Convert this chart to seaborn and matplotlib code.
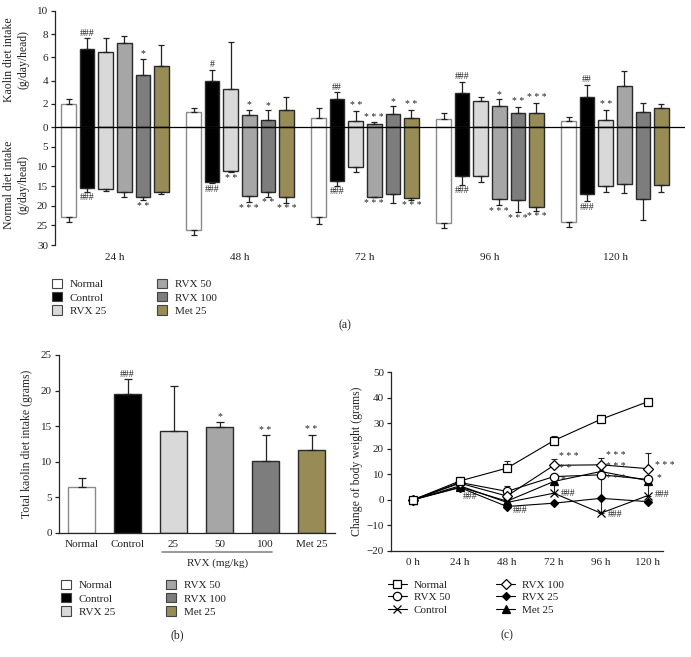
import numpy as np
import pandas as pd
import matplotlib
matplotlib.use("Agg")
import matplotlib.pyplot as plt
import seaborn as sns
from matplotlib.patches import Patch
from matplotlib.container import BarContainer

# ---------------- data ----------------
groups = ["Normal", "Control", "RVX 25", "RVX 50", "RVX 100", "Met 25"]
group_colors = ["#ffffff", "#000000", "#d9d9d9", "#a6a6a6", "#7d7d7d", "#978c56"]
time_labels_a = ["24 h", "48 h", "72 h", "96 h", "120 h"]

kaolin = {
    "Normal":  [2.0, 1.3, 0.8, 0.7, 0.55],
    "Control": [6.7, 4.0, 2.45, 2.9, 2.55],
    "RVX 25":  [6.5, 3.3, 0.55, 2.25, 0.6],
    "RVX 50":  [7.2, 1.0, 0.25, 1.8, 3.5],
    "RVX 100": [4.5, 0.6, 1.1, 1.25, 1.3],
    "Met 25":  [5.3, 1.5, 0.75, 1.2, 1.65],
}
kaolin_err = {
    "Normal":  [0.45, 0.35, 0.8, 0.55, 0.3],
    "Control": [0.95, 0.95, 0.55, 1.0, 1.1],
    "RVX 25":  [1.2, 4.0, 0.85, 0.3, 0.9],
    "RVX 50":  [0.65, 0.5, 0.17, 0.6, 1.35],
    "RVX 100": [1.4, 0.85, 0.7, 0.5, 0.75],
    "Met 25":  [1.8, 1.05, 0.75, 0.9, 0.35],
}
normal_diet = {
    "Normal":  [23.0, 26.2, 23.0, 24.5, 24.2],
    "Control": [15.6, 14.1, 13.6, 12.4, 17.1],
    "RVX 25":  [15.8, 11.2, 10.1, 12.4, 15.1],
    "RVX 50":  [16.4, 17.5, 17.7, 18.4, 14.5],
    "RVX 100": [17.9, 16.4, 17.1, 18.6, 18.3],
    "Met 25":  [16.6, 17.7, 18.05, 20.3, 14.8],
}
normal_err = {
    "Normal":  [1.2, 1.3, 1.6, 1.3, 1.3],
    "Control": [0.8, 0.25, 1.4, 2.3, 1.8],
    "RVX 25":  [0.4, 0.3, 1.3, 1.5, 1.5],
    "RVX 50":  [1.4, 1.6, 0.2, 1.5, 2.2],
    "RVX 100": [0.7, 1.3, 2.1, 3.1, 5.3],
    "Met 25":  [0.5, 1.5, 0.5, 1.0, 1.8],
}
kaolin_sig = {
    "Control": ["###", "#", "##", "###", "##"],
    "RVX 25":  ["", "", "**", "", "**"],
    "RVX 50":  ["", "*", "***", "*", ""],
    "RVX 100": ["*", "*", "*", "**", ""],
    "Met 25":  ["", "", "**", "***", ""],
}
normal_sig = {
    "Control": ["###", "###", "###", "###", "###"],
    "RVX 25":  ["", "**", "", "", ""],
    "RVX 50":  ["", "***", "***", "***", ""],
    "RVX 100": ["**", "**", "", "***", ""],
    "Met 25":  ["", "***", "***", "***", ""],
}

# panel (b)
total_kaolin = [6.4, 19.5, 14.3, 14.95, 10.1, 11.6]
total_kaolin_err = [1.3, 2.1, 6.4, 0.7, 3.6, 2.2]
total_sig = ["", "###", "", "*", "**", "**"]
b_ticklabels = ["Normal", "Control", "25", "50", "100", "Met 25"]

# panel (c)
hours = [0, 24, 48, 72, 96, 120]
hour_labels = ["0 h", "24 h", "48 h", "72 h", "96 h", "120 h"]
c_order = ["Normal", "RVX 50", "Control", "RVX 100", "RVX 25", "Met 25"]
weight = {
    "Normal":  [0, 7.4, 12.4, 23.2, 31.5, 38.4],
    "RVX 50":  [0, 6.8, 3.3, 9.1, 9.8, 8.0],
    "Control": [0, 5.5, -1.0, 2.6, -5.2, 1.7],
    "RVX 100": [0, 6.5, 1.5, 13.5, 13.7, 12.2],
    "RVX 25":  [0, 4.8, -2.6, -1.3, 0.6, -0.7],
    "Met 25":  [0, 5.0, -0.5, 7.2, 11.1, 7.5],
}
weight_err = {
    "Normal":  [0, 1.4, 2.9, 1.8, 1.8, 1.2],
    "RVX 50":  [0, 1.0, 2.0, 0, 0, 0],
    "Control": [0, 0, 0, 4.5, 14.0, 5.5],
    "RVX 100": [0, 1.0, 1.5, 2.3, 2.6, 6.1],
    "RVX 25":  [0, 0, 0, 0, 0, 0],
    "Met 25":  [0, 0, 0, 0, 0, 0],
}
# (series, time index, label, dx pt, dy pt)
c_sig = [
    ("Control", 1, "###", 0, -8),
    ("RVX 25", 2, "###", 2, -3),
    ("RVX 100", 3, "***", 2, 6.5),
    ("RVX 50", 3, "**", 2, 5.5),
    ("Met 25", 3, "*", 3, 1),
    ("Control", 3, "###", 3, 0),
    ("RVX 100", 4, "***", 2, 6.5),
    ("Met 25", 4, "***", 2, 3.4),
    ("RVX 50", 4, "***", 2, -2.5),
    ("Control", 4, "###", 3, -1.2),
    ("RVX 100", 5, "***", 3, 2),
    ("Met 25", 5, "*", 4, 2),
    ("Control", 5, "###", 3, 0.7),
]

# ---------------- style ----------------
sns.set_style("ticks")
plt.rcParams["font.family"] = ["Liberation Serif", "DejaVu Serif"]
plt.rcParams["font.size"] = 8
plt.rcParams["axes.linewidth"] = 0.9
plt.rcParams["xtick.major.width"] = 0.9
plt.rcParams["ytick.major.width"] = 0.9
plt.rcParams["ytick.major.size"] = 3
plt.rcParams["text.color"] = "#222222"
plt.rcParams["xtick.color"] = "#222222"
plt.rcParams["ytick.color"] = "#222222"

W, H = 691, 657
fig = plt.figure(figsize=(W / 100, H / 100), dpi=100)
pal = dict(zip(groups, group_colors))
EDGE = "#2a2a2a"
NORMAL_EDGE = "#8a8a8a"
ERRC = "#222222"
SIGSIZE = 7


def fmt_sig(s):
    return " ".join(s) if s.startswith("*") else s


def bar_containers(ax):
    return [c for c in ax.containers if isinstance(c, BarContainer)]


# ---------------- panel (a) ----------------
SCALE = 2.95
axA = fig.add_axes([55 / W, 1 - 245 / H, 630 / W, 234 / H])
rows = []
for g in groups:
    for t, k, n in zip(time_labels_a, kaolin[g], normal_diet[g]):
        rows.append(dict(time=t, group=g, kaolin=k, normal=-n / SCALE))
dfA = pd.DataFrame(rows)

common = dict(data=dfA, x="time", hue="group", hue_order=groups, order=time_labels_a,
              palette=pal, saturation=1, width=0.89, gap=0.22, errorbar=None,
              legend=False, edgecolor=EDGE, linewidth=1.0, ax=axA)
sns.barplot(y="kaolin", **common)
n_up = len(bar_containers(axA))
sns.barplot(y="normal", **common)
contA = bar_containers(axA)

for i, g in enumerate(groups):
    up = [b for b in contA[i] if b is not None]
    dn = [b for b in contA[n_up + i] if b is not None]
    if g == "Normal":
        for b in up + dn:
            b.set_edgecolor(NORMAL_EDGE)
    for j, bar in enumerate(up):
        x = bar.get_x() + bar.get_width() / 2
        top = bar.get_height()
        e = kaolin_err[g][j]
        axA.errorbar(x, top, yerr=[[0], [e]], fmt="none", ecolor=ERRC,
                     elinewidth=0.9, capsize=2.5, capthick=0.9)
        lab = kaolin_sig.get(g, [""] * 5)[j]
        if lab:
            axA.annotate(fmt_sig(lab), (x, top + e), xytext=(0, 0.3),
                         textcoords="offset points", ha="center", va="bottom",
                         fontsize=SIGSIZE)
    for j, bar in enumerate(dn):
        x = bar.get_x() + bar.get_width() / 2
        bot = bar.get_height()
        e = normal_err[g][j] / SCALE
        axA.errorbar(x, bot, yerr=[[e], [0]], fmt="none", ecolor=ERRC,
                     elinewidth=0.9, capsize=2.5, capthick=0.9)
        lab = normal_sig.get(g, [""] * 5)[j]
        if lab:
            axA.annotate(fmt_sig(lab), (x, bot - e), xytext=(0, -1),
                         textcoords="offset points", ha="center", va="top",
                         fontsize=SIGSIZE)

axA.axhline(0, color="black", lw=0.9, zorder=5)
axA.set_ylim(-30 / SCALE, 10)
axA.set_xlim(-0.48, 4.56)
up_ticks = [0, 2, 4, 6, 8, 10]
dn_ticks = [5, 10, 15, 20, 25, 30]
axA.set_yticks(up_ticks + [-v / SCALE for v in dn_ticks])
axA.set_yticklabels([str(v) for v in up_ticks] + [str(v) for v in dn_ticks])
axA.tick_params(axis="x", length=0, pad=6, labelsize=8)
axA.tick_params(axis="y", labelsize=8, pad=2)
for s in ["top", "right", "bottom"]:
    axA.spines[s].set_visible(False)
axA.set_xlabel("")
axA.set_ylabel("")
fig.text(16 / W, 1 - 60 / H, "Kaolin diet intake\n(g/day/head)", rotation=90,
         ha="center", va="center", fontsize=8.5, linespacing=1.3)
fig.text(16 / W, 1 - 185 / H, "Normal diet intake\n(g/day/head)", rotation=90,
         ha="center", va="center", fontsize=8.5, linespacing=1.3)

legend_patches = [Patch(facecolor=c, edgecolor="#444444", linewidth=0.8) for c in group_colors]
leg_kw = dict(loc="upper left", ncol=2, frameon=False, fontsize=8, handlelength=0.9,
              handleheight=0.9, handletextpad=0.7, labelspacing=0.25,
              columnspacing=4.6, borderaxespad=0, borderpad=0)
fig.legend(legend_patches, groups, bbox_to_anchor=(52 / W, 1 - 279 / H), **leg_kw)
fig.text(345 / W, 1 - 325 / H, "(a)", ha="center", va="center", fontsize=8.5)

# ---------------- panel (b) ----------------
axB = fig.add_axes([59 / W, 1 - 533 / H, 276 / W, 178 / H])
dfB = pd.DataFrame({"group": groups, "total": total_kaolin})
sns.barplot(data=dfB, x="group", y="total", hue="group", order=groups, hue_order=groups,
            palette=pal, saturation=1, width=0.59, errorbar=None, legend=False,
            edgecolor=EDGE, linewidth=1.0, ax=axB)
barsB = [b for c in bar_containers(axB) for b in c if b is not None]
for bar in barsB:
    x = bar.get_x() + bar.get_width() / 2
    idx = int(round(x))
    if groups[idx] == "Normal":
        bar.set_edgecolor(NORMAL_EDGE)
    top = bar.get_height()
    e = total_kaolin_err[idx]
    axB.errorbar(x, top, yerr=[[0], [e]], fmt="none", ecolor=ERRC,
                 elinewidth=0.9, capsize=3, capthick=0.9)
    if total_sig[idx]:
        axB.annotate(fmt_sig(total_sig[idx]), (x, top + e), xytext=(0, 0.3),
                     textcoords="offset points", ha="center", va="bottom",
                     fontsize=SIGSIZE)
axB.set_ylim(0, 25)
axB.set_yticks([0, 5, 10, 15, 20, 25])
axB.set_xlim(-0.49, 5.51)
axB.set_xticks(range(len(groups)))
axB.set_xticklabels(b_ticklabels)
axB.tick_params(axis="x", length=0, pad=5, labelsize=8)
axB.tick_params(axis="y", labelsize=8, pad=2)
for s in ["top", "right"]:
    axB.spines[s].set_visible(False)
axB.set_xlabel("")
axB.set_ylabel("Total kaolin diet intake (grams)", fontsize=8.5, labelpad=6)
trB = axB.get_xaxis_transform()
axB.plot([1.75, 4.15], [-0.107, -0.107], transform=trB, color="#888888", lw=1.2,
         clip_on=False)
axB.text(2.95, -0.17, "RVX (mg/kg)", transform=trB, ha="center", va="center",
         fontsize=8)
fig.legend(legend_patches, groups, bbox_to_anchor=(61 / W, 1 - 580 / H), **leg_kw)
fig.text(177 / W, 1 - 635 / H, "(b)", ha="center", va="center", fontsize=8.5)

# ---------------- panel (c) ----------------
axC = fig.add_axes([391 / W, 1 - 551 / H, 272 / W, 179 / H])
mstyle = {
    "Normal":  dict(marker="s", markersize=6, markerfacecolor="white"),
    "RVX 50":  dict(marker="o", markersize=6, markerfacecolor="white"),
    "Control": dict(marker="x", markersize=6, markerfacecolor="black"),
    "RVX 100": dict(marker="D", markersize=4.8, markerfacecolor="white"),
    "RVX 25":  dict(marker="D", markersize=4, markerfacecolor="black"),
    "Met 25":  dict(marker="^", markersize=5.2, markerfacecolor="black"),
}
handles = {}
for g in ["RVX 25", "Control", "Met 25", "RVX 50", "RVX 100", "Normal"]:
    e = np.array(weight_err[g])
    v = np.array(weight[g])
    h = np.array(hours)
    m = e > 0
    if m.any():
        axC.errorbar(h[m], v[m], yerr=[np.zeros(m.sum()), e[m]], fmt="none",
                     ecolor=ERRC, elinewidth=0.8, capsize=2.5, capthick=0.8, zorder=2)
    sns.lineplot(x=hours, y=weight[g], ax=axC, color="black", linewidth=0.8,
                 markeredgecolor="black", markeredgewidth=0.9, errorbar=None,
                 zorder=3, **mstyle[g])
    handles[g] = axC.lines[-1]

for g, ti, lab, dx, dy in c_sig:
    axC.annotate(fmt_sig(lab), (hours[ti], weight[g][ti]), xytext=(dx + 2, dy),
                 textcoords="offset points", ha="left", va="center", fontsize=SIGSIZE)

axC.set_xlim(-11.2, 127.7)
axC.set_ylim(-20, 50)
axC.set_yticks(range(-20, 51, 10))
axC.set_xticks(hours)
axC.set_xticklabels(hour_labels)
axC.tick_params(axis="x", length=0, pad=5, labelsize=8)
axC.tick_params(axis="y", labelsize=8, pad=2)
for s in ["top", "right"]:
    axC.spines[s].set_visible(False)
axC.set_xlabel("")
axC.set_ylabel("Change of body weight (grams)", fontsize=8.5, labelpad=3)
fig.legend([handles[g] for g in c_order], c_order, loc="upper left", ncol=2,
           frameon=False, fontsize=8, handlelength=1.7, handletextpad=0.6,
           labelspacing=0.25, columnspacing=4.2, borderaxespad=0, borderpad=0,
           bbox_to_anchor=(388 / W, 1 - 580 / H))
fig.text(507 / W, 1 - 635 / H, "(c)", ha="center", va="center", fontsize=8.5)

fig.savefig("out.png", dpi=100)
